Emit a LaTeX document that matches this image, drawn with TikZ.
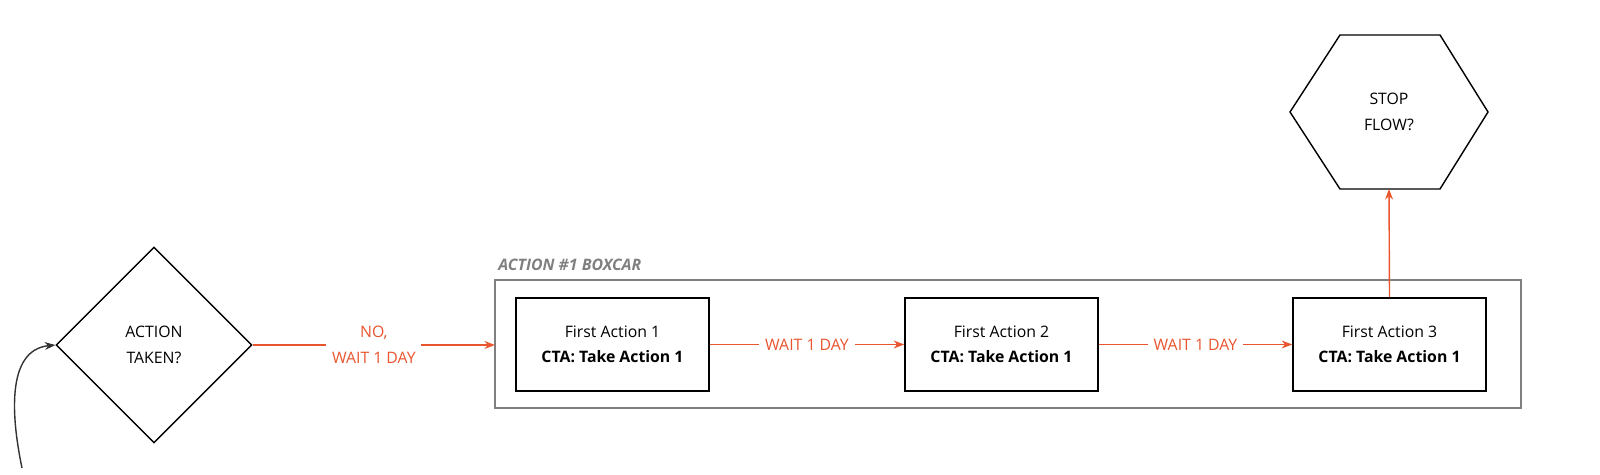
\documentclass[tikz,border=0pt]{standalone}
\usepackage{fontspec}
\setmainfont{Open Sans}
\usetikzlibrary{positioning,shapes.geometric,arrows.meta}
\definecolor{flow}{HTML}{E8552E}
\definecolor{frame}{HTML}{7F7F7F}
\tikzset{
  actbox/.style={draw, line width=0.9pt, minimum width=3.86cm, minimum height=1.86cm, align=center, font=\fontsize{9}{14.5}\selectfont},
  wait/.style={draw=flow, line width=0.8pt, -{Stealth[length=6pt]}},
  waitlbl/.style={fill=white, text=flow, font=\fontsize{9}{14.5}\selectfont, align=center}
}
\begin{document}
\begin{tikzpicture}[x=0.02cm,y=-0.02cm]
\useasboundingbox (0,0) rectangle (1600,475);

% decision
\node[draw, diamond, line width=0.8pt, minimum width=3.92cm, minimum height=3.92cm, inner sep=0pt, align=center, font=\fontsize{9}{14.5}\selectfont] (taken) at (154,345) {ACTION\\TAKEN?};

% boxcar frame
\draw[frame, line width=0.8pt] (495,280) rectangle (1521,408);
\node[anchor=south west, text=frame, font=\fontsize{9}{13}\selectfont\bfseries\itshape, inner sep=0pt] (boxcar) at (498,271) {ACTION \#1 BOXCAR};
\coordinate (frameleft) at (495,345);

\node[actbox] (act1) at (612.5,344.5) {First Action 1\\\textbf{CTA: Take Action 1}};
\node[actbox] (act2) at (1001.5,344.5) {First Action 2\\\textbf{CTA: Take Action 1}};
\node[actbox] (act3) at (1389.5,344.5) {First Action 3\\\textbf{CTA: Take Action 1}};

% stop hexagon
\draw[line width=0.8pt] (1290,112) -- (1340,35) -- (1440,35) -- (1488,112) -- (1440,189) -- (1340,189) -- cycle;
\node[align=center, font=\fontsize{9}{14.5}\selectfont] (stop) at (1389,112) {STOP\\FLOW?};
\coordinate (stopbot) at (1389,189);

% connectors
\draw[wait] (taken.east) -- node[waitlbl] {NO,\\WAIT 1 DAY} (frameleft);
\draw[wait] (act1) -- node[waitlbl] {WAIT 1 DAY} (act2);
\draw[wait] (act2) -- node[waitlbl] {WAIT 1 DAY} (act3);
\draw[wait] (act3.north) -- (stopbot);

% loop back
\coordinate (loopin) at (22,468);
\draw[line width=0.8pt, draw=black!80, -{Stealth[length=6pt]}] (loopin) .. controls (12,420) and (5,350) .. (taken.west);
\end{tikzpicture}
\end{document}
